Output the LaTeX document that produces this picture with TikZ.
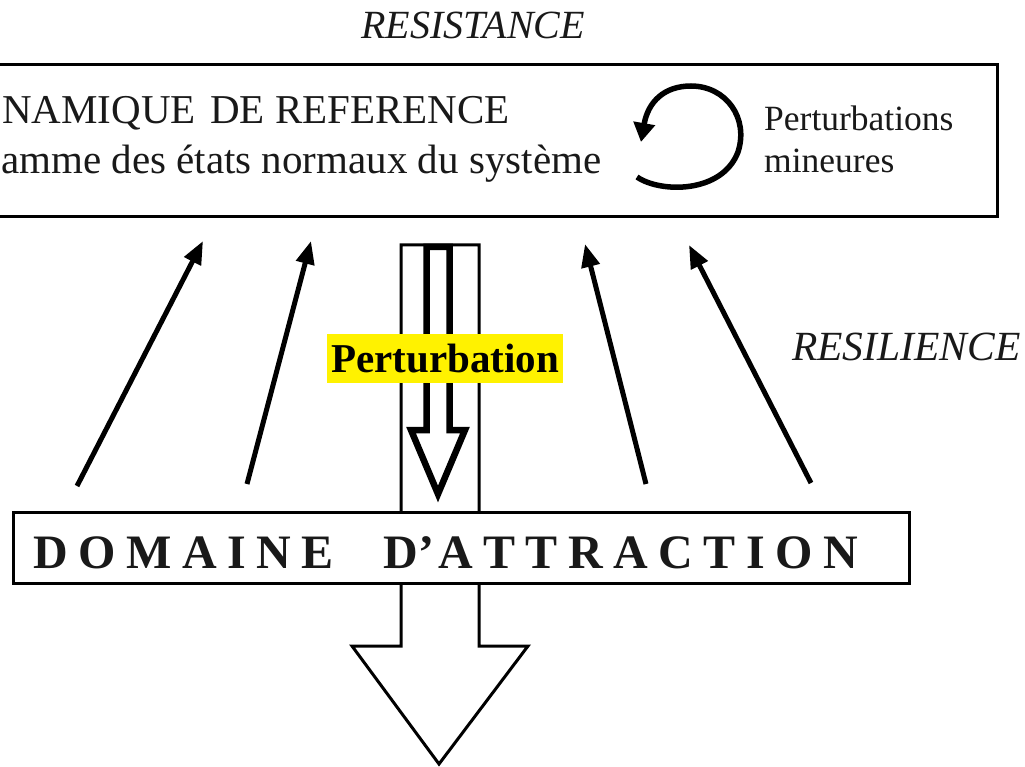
\documentclass[tikz,border=0pt]{standalone}
\usepackage{fontspec}
\setmainfont{Liberation Serif}
\usetikzlibrary{arrows.meta}
\newcommand{\lsp}{\hspace{10.5pt}}
\begin{document}
\begin{tikzpicture}[x=1pt,y=-1pt,
  frame/.style={draw=black, line width=3pt, fill=white, inner sep=0pt},
  slant/.style={line width=5pt, -{Triangle[length=23pt,width=18pt]}},
  txt/.style={inner sep=0pt, text=black!90},
]
\useasboundingbox (0,0) rectangle (1025,767);

% top box
\node[frame, minimum width=1007pt, minimum height=152pt] (refbox) at (493.5,141) {};
\node[txt, anchor=base west] (l1) at (2,124) {\fontsize{41}{49}\selectfont NAMIQUE\hspace{0.35em}DE REFERENCE};
\node[txt, anchor=base west] (l2) at (1,174) {\fontsize{41}{49}\selectfont amme des états normaux du système};
\node[txt, anchor=base west] (p1) at (764,131) {\fontsize{35.5}{42}\selectfont Perturbations};
\node[txt, anchor=base west] (p2) at (764,173) {\fontsize{35.5}{42}\selectfont mineures};

% circular arrow (hand-drawn loop)
\draw[line width=5.5pt, -{Triangle[length=19pt,width=21pt]}]
  (637,177) .. controls (660,193) and (722,194) .. (738,152)
  .. controls (749,118) and (726,86) .. (691,86)
  .. controls (664,86) and (648,102) .. (641,142);

% titles
\node[txt, anchor=base] (res) at (473,39) {\fontsize{40}{48}\selectfont\itshape RESISTANCE};
\node[txt, anchor=base west] (resil) at (792,360) {\fontsize{41.5}{49}\selectfont\itshape RESILIENCE};

% big hollow arrow
\draw[line width=3pt, fill=white]
  (401,245) -- (479,245) -- (479,646) -- (528,646) -- (439,764) -- (352,646) -- (401,646) -- cycle;

% inner thick arrow
\draw[line width=6.5pt, fill=white]
  (426.5,247) -- (449.5,247) -- (449.5,430) -- (465,430) -- (438,494) -- (411,430) -- (426.5,430) -- cycle;

% perturbation label
\node[fill=yellow, inner sep=0pt, minimum width=236pt, minimum height=49pt] (pert) at (445,358.5)
  {\fontsize{41}{47}\selectfont\bfseries Perturbation};

% domaine box
\node[frame, minimum width=896pt, minimum height=71pt] (dom) at (461,547.5) {};
\node[txt, anchor=base west] (domtext) at (33,568) {\fontsize{48}{56}\selectfont\bfseries
  D\lsp O\lsp M\lsp A\lsp I\lsp N\lsp E\hspace{50pt}D’\hspace{4pt}A\lsp T\lsp T\lsp R\lsp A\lsp C\lsp T\lsp I\lsp O\lsp N};

% slanted arrows
\coordinate (t1) at (77,486);  \coordinate (h1) at (203,241);
\coordinate (t2) at (247,484); \coordinate (h2) at (311,241);
\coordinate (t3) at (646,484); \coordinate (h3) at (585,244);
\coordinate (t4) at (811,483); \coordinate (h4) at (689,245);
\draw[slant] (t1) -- (h1);
\draw[slant] (t2) -- (h2);
\draw[slant] (t3) -- (h3);
\draw[slant] (t4) -- (h4);
\end{tikzpicture}
\end{document}
